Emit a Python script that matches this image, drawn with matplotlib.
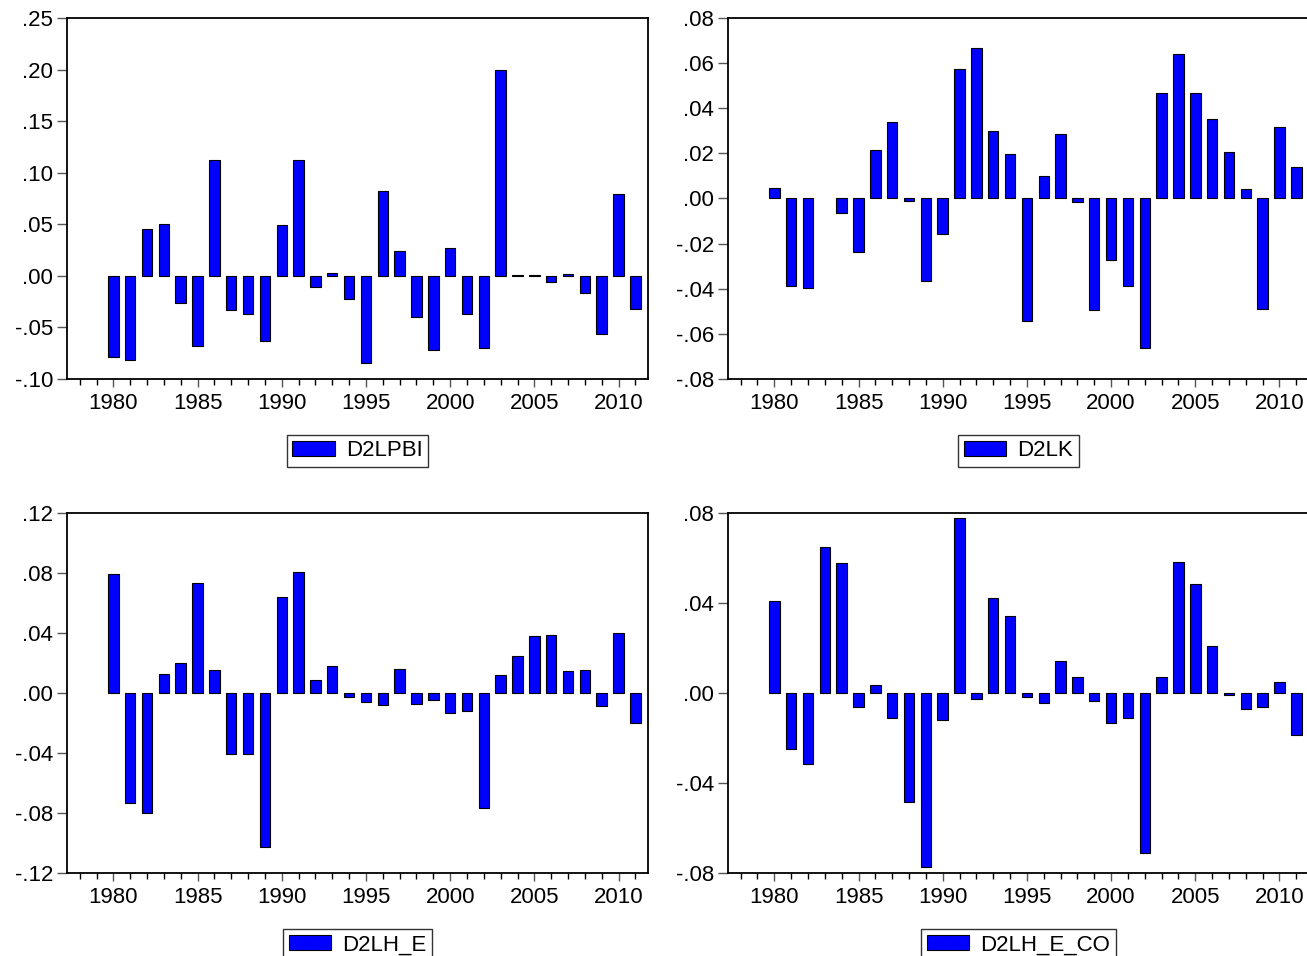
import matplotlib
matplotlib.use("Agg")
import matplotlib.pyplot as plt
import numpy as np
from matplotlib.ticker import FuncFormatter, MultipleLocator

plt.rcParams["font.family"] = ["Liberation Sans", "DejaVu Sans"]

years = np.arange(1980, 2012)

# second differences of log series, one value per year 1980-2011
d2lpbi = [-0.079, -0.082, 0.0456, 0.0498, -0.0265, -0.068, 0.1126, -0.033,
          -0.0369, -0.0628, 0.0489, 0.112, -0.0104, 0.0023, -0.022, -0.085,
          0.082, 0.0236, -0.0395, -0.0715, 0.0265, -0.0366, -0.0696, 0.1993,
          0.0012, 0.0012, -0.006, 0.002, -0.017, -0.056, 0.079, -0.032]

d2lk = [0.0046, -0.0387, -0.0395, np.nan, -0.0064, -0.0238, 0.0214, 0.034,
        -0.0013, -0.0364, -0.0158, 0.0573, 0.0668, 0.030, 0.0197, -0.0544,
        0.0101, 0.0287, -0.0016, -0.0494, -0.0273, -0.0386, -0.0664, 0.0469,
        0.0641, 0.0466, 0.0353, 0.0205, 0.0043, -0.0489, 0.0315, 0.0139]

d2lh_e = [0.0793, -0.0731, -0.0798, 0.0129, 0.0202, 0.0733, 0.0151, -0.0407,
          -0.0407, -0.1024, 0.064, 0.0807, 0.0084, 0.0178, -0.0029, -0.0062,
          -0.0078, 0.0162, -0.0076, -0.0049, -0.0136, -0.0118, -0.0769, 0.0118,
          0.0247, 0.038, 0.0384, 0.0144, 0.0151, -0.0089, 0.0398, -0.020]

d2lh_e_co = [0.041, -0.0248, -0.0314, 0.0651, 0.0577, -0.0062, 0.0036, -0.0109,
             -0.0484, -0.0772, -0.0121, 0.0777, -0.0028, 0.0423, 0.0342, -0.0016,
             -0.0046, 0.0141, 0.0071, -0.0034, -0.0133, -0.0109, -0.071, 0.0071,
             0.0581, 0.0484, 0.021, -0.001, -0.007, -0.0064, 0.0047, -0.0186]

panels = [
    ("D2LPBI", d2lpbi, (-0.10, 0.25), 0.05, [0.0513, 0.6036, 0.4445, 0.3776]),
    ("D2LK", d2lk, (-0.08, 0.08), 0.02, [0.5570, 0.6036, 0.4445, 0.3776]),
    ("D2LH_E", d2lh_e, (-0.12, 0.12), 0.04, [0.0513, 0.0868, 0.4445, 0.3766]),
    ("D2LH_E_CO", d2lh_e_co, (-0.08, 0.08), 0.04, [0.5570, 0.0868, 0.4445, 0.3766]),
]


def eviews_fmt(v, _pos):
    # EViews style: drop the leading zero (".05", "-.10")
    return f"{v:.2f}".replace("0.", ".", 1)


fig = plt.figure(figsize=(13.07, 9.56), dpi=100)

for name, values, ylim, step, rect in panels:
    ax = fig.add_axes(rect)
    ax.bar(years, values, width=0.62, color="#0000FF", edgecolor="black",
           linewidth=0.8, label=name)

    ax.set_xlim(1977.25, 2011.75)
    ax.set_ylim(*ylim)
    ax.xaxis.set_major_locator(MultipleLocator(5))
    ax.xaxis.set_minor_locator(MultipleLocator(1))
    ax.yaxis.set_major_locator(MultipleLocator(step))
    ax.yaxis.set_major_formatter(FuncFormatter(eviews_fmt))

    ax.tick_params(axis="both", direction="out", labelsize=16, color="#555555")
    ax.tick_params(axis="x", which="major", length=6, width=1.0, pad=4)
    ax.tick_params(axis="x", which="minor", length=4, width=1.0)
    ax.tick_params(axis="y", which="major", length=7, width=1.0, pad=3)
    ax.tick_params(top=False, right=False)
    for side in ax.spines.values():
        side.set_linewidth(1.3)

    leg = ax.legend(loc="upper center", bbox_to_anchor=(0.5, -0.155),
                    fontsize=16, frameon=True, fancybox=False, shadow=False,
                    handlelength=1.9, handleheight=0.7, handletextpad=0.5,
                    borderpad=0.25, borderaxespad=0)
    leg.get_frame().set_edgecolor("black")
    leg.get_frame().set_linewidth(1.0)

fig.savefig("out.png", dpi=100)
